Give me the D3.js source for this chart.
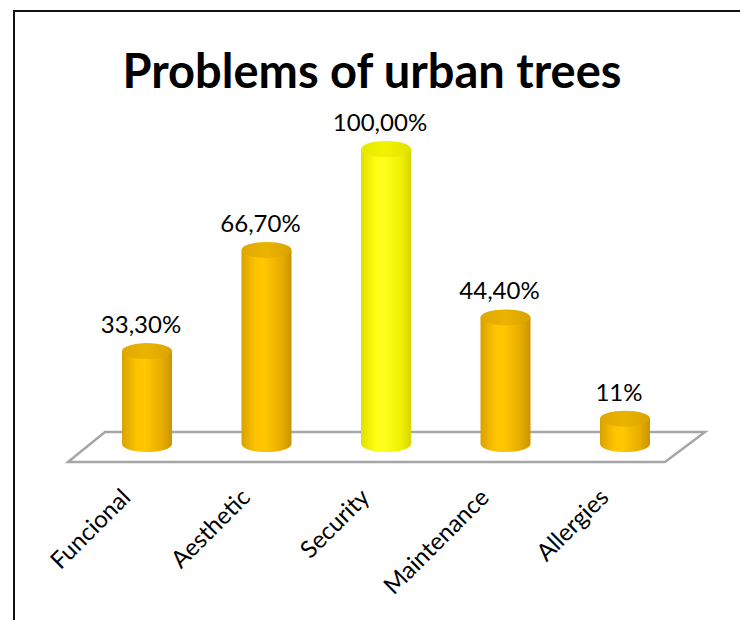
<!DOCTYPE html>
<html>
<head>
<meta charset="utf-8">
<script src="https://cdn.jsdelivr.net/npm/d3@7"></script>
<style>
  body { margin: 0; background: #fff; }
  svg { display: block; }
</style>
</head>
<body>
<div id="chart"></div>
<script>
const categories = ['Funcional', 'Aesthetic', 'Security', 'Maintenance', 'Allergies']
const values = [33.3, 66.7, 100, 44.4, 11]
const valueLabels = ['33,30%', '66,70%', '100,00%', '44,40%', '11%']
const highlight = 'Security'

const W = 740
const H = 620

const svg = d3.select('#chart').append('svg')
  .attr('width', W)
  .attr('height', H)
  .style('font-family', 'Lato, "Noto Sans", sans-serif')

const defs = svg.append('defs')

const addGradient = (id, stops) => {
  const g = defs.append('linearGradient')
    .attr('id', id)
    .attr('x1', '0%').attr('x2', '100%')
    .attr('y1', '0%').attr('y2', '0%')
  g.selectAll('stop').data(stops)
    .enter().append('stop')
    .attr('offset', d => d[0])
    .attr('stop-color', d => d[1])
}

addGradient('bodyOrange', [['0%', '#d9a200'], ['30%', '#ffc400'], ['45%', '#ffc800'], ['80%', '#e8ac00'], ['100%', '#c99400']])
addGradient('topOrange', [['0%', '#e0a800'], ['50%', '#eab400'], ['100%', '#d9a200']])
addGradient('bodyYellow', [['0%', '#e0e000'], ['30%', '#ffff10'], ['45%', '#ffff20'], ['80%', '#f0f000'], ['100%', '#d6d600']])
addGradient('topYellow', [['0%', '#e8e800'], ['50%', '#f2f200'], ['100%', '#e0e000']])

// outer frame (only top and left edges are visible)
svg.append('path')
  .attr('d', `M${W},11 L14,11 L14,${H}`)
  .attr('fill', 'none')
  .attr('stroke', '#111')
  .attr('stroke-width', 2)

svg.append('text')
  .attr('x', 372)
  .attr('y', 88)
  .attr('text-anchor', 'middle')
  .attr('font-weight', 'bold')
  .attr('font-size', 47)
  .attr('fill', '#000')
  .text('Problems of urban trees')

// floor
const floor = { backY: 432, frontY: 462, backL: 105, backR: 705, frontL: 68, frontR: 665 }
svg.append('path')
  .attr('d', `M${floor.backL},${floor.backY} L${floor.backR},${floor.backY} L${floor.frontR},${floor.frontY} L${floor.frontL},${floor.frontY} Z`)
  .attr('fill', '#fff')
  .attr('stroke', '#a6a6a6')
  .attr('stroke-width', 2.5)

const x = d3.scalePoint()
  .domain(categories)
  .range([87.25, 684.75])
  .padding(0.5)

const y = d3.scaleLinear()
  .domain([0, 100])
  .range([452, 149])

const r = 25
const ry = 8
const baseY = 444

const data = categories.map((c, i) => ({ name: c, value: values[i], label: valueLabels[i] }))

const bars = svg.selectAll('g.bar').data(data)
  .enter().append('g')
  .attr('class', 'bar')

bars.append('path')
  .attr('d', d => {
    const cx = x(d.name)
    const yt = y(d.value)
    return `M${cx - r},${yt} L${cx - r},${baseY} A${r},${ry} 0 0 0 ${cx + r},${baseY} L${cx + r},${yt} Z`
  })
  .attr('fill', d => d.name === highlight ? 'url(#bodyYellow)' : 'url(#bodyOrange)')

bars.append('ellipse')
  .attr('cx', d => x(d.name))
  .attr('cy', d => y(d.value))
  .attr('rx', r)
  .attr('ry', ry)
  .attr('fill', d => d.name === highlight ? 'url(#topYellow)' : 'url(#topOrange)')

bars.append('text')
  .attr('x', d => x(d.name) - 6)
  .attr('y', d => y(d.value) - ry - 10)
  .attr('text-anchor', 'middle')
  .attr('font-size', 24)
  .attr('fill', '#000')
  .text(d => d.label)

svg.selectAll('text.cat').data(categories)
  .enter().append('text')
  .attr('class', 'cat')
  .attr('text-anchor', 'end')
  .attr('font-size', 24)
  .attr('fill', '#000')
  .attr('transform', d => `translate(${x(d) - 15}, 499) rotate(-45)`)
  .text(d => d)
</script>
</body>
</html>
